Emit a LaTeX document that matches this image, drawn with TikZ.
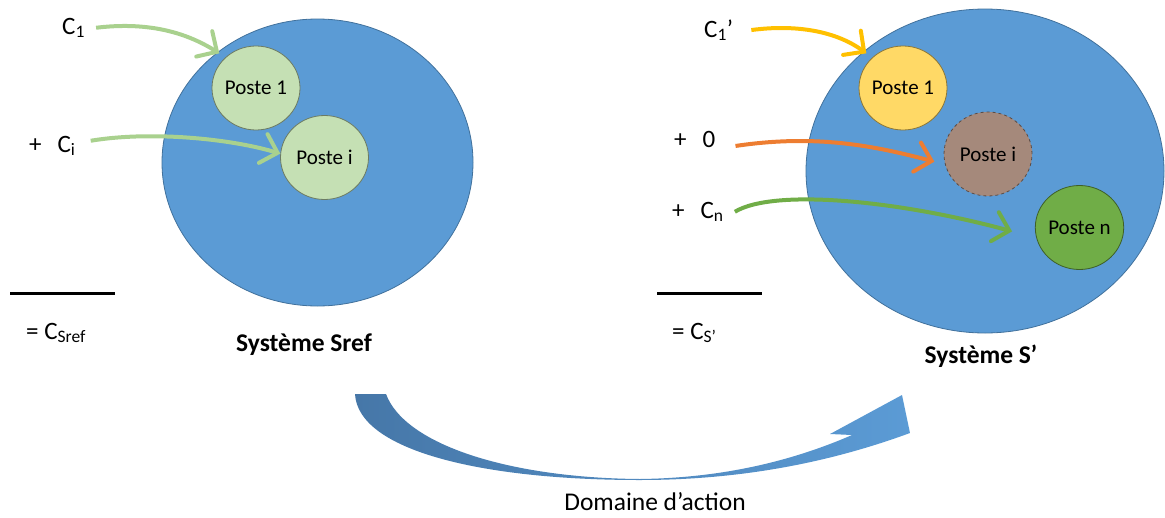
\documentclass[tikz,border=0pt]{standalone}
\usepackage{fontspec}
\setmainfont{Carlito}
\usetikzlibrary{arrows.meta, positioning, shapes.geometric}
\definecolor{sysblue}{HTML}{5B9BD5}
\definecolor{sysedge}{HTML}{41719C}
\definecolor{refgreen}{HTML}{C5E0B4}
\definecolor{arrgreen}{HTML}{A9D18E}
\definecolor{postyellow}{HTML}{FFD966}
\definecolor{arryellow}{HTML}{FFC000}
\definecolor{postbrown}{HTML}{A5897B}
\definecolor{arrorange}{HTML}{ED7D31}
\definecolor{postgreen}{HTML}{70AD47}
\definecolor{domdark}{HTML}{4677A8}
\definecolor{domlight}{HTML}{5B9BD5}

\begin{document}
\begin{tikzpicture}[x=1pt, y=-1pt,
  system/.style={ellipse, fill=sysblue, draw=sysedge, line width=0.8pt},
  poste/.style={
    ellipse, inner sep=0pt,
    minimum width=88pt, minimum height=84pt,
    line width=0.8pt, font=\fontsize{21}{25}\selectfont
  },
  cost/.style={anchor=base west, inner sep=0pt, font=\fontsize{25}{29}\selectfont},
  title/.style={anchor=base, inner sep=0pt, font=\fontsize{25.5}{30}\selectfont\bfseries},
  flow/.style={-{Straight Barb[length=15pt,width=30pt,line cap=round]}, line width=4pt},
  total/.style={line width=3pt}
]
\useasboundingbox (0,0) rectangle (1165,517);

% Systems
\node[system, minimum width=311pt, minimum height=287pt] (sref) at (317.5,162.5) {};
\node[system, minimum width=358pt, minimum height=324pt] (sprime) at (985,171) {};

% Postes
\node[poste, fill=refgreen, draw=refgreen!55!black] (p1ref) at (256,88) {Poste 1};
\node[poste, fill=refgreen, draw=refgreen!55!black] (piref) at (324.5,157.5) {Poste i};
\node[poste, fill=postyellow, draw=postyellow!55!black] (p1s) at (903,88) {Poste 1};
\node[poste, fill=postbrown, draw=postbrown!55!black, dashed] (pis) at (988,154) {Poste i};
\node[poste, fill=postgreen, draw=postgreen!55!black] (pns) at (1079.5,227.5) {Poste n};

% Costs
\node[cost] (c1ref) at (62,34) {C\textsubscript{1}};
\node[cost] (ciref) at (29,152) {+\hspace{16pt}C\textsubscript{i}};
\node[cost] (c1s) at (704,37) {C\textsubscript{1}’};
\node[cost] (cis) at (674,147) {+\hspace{16pt}0};
\node[cost] (cns) at (672,218) {+\hspace{16pt}C\textsubscript{n}};

% Arrows
\draw[flow, arrgreen] ([xshift=11pt]c1ref.east) .. controls +(50,-6) and +(-35,-22) .. ([shift={(-6,-4)}]p1ref.135);
\draw[flow, arrgreen] ([xshift=15pt,yshift=5pt]ciref.east) .. controls +(60,-10) and +(-50,-15) .. (piref.175);
\draw[flow, arryellow] ([xshift=18pt]c1s.east) .. controls +(45,-6) and +(-30,-22) .. ([shift={(-6,-4)}]p1s.135);
\draw[flow, arrorange] ([xshift=20pt,yshift=-7pt]cis.east) .. controls +(80,-12) and +(-60,-16) .. ([xshift=-10pt]pis.190);
\draw[flow, postgreen] ([xshift=11pt]cns.east) .. controls +(40,-24) and +(-110,-30) .. ([xshift=-23pt]pns.185);

% Totals
\draw[total] (10,293) -- (115,293);
\draw[total] (657,293) -- (762,293);
\node[cost] (csref) at (26,339) {= C\textsubscript{Sref}};
\node[cost] (cs) at (672,339) {= C\textsubscript{S’}};

% Titles
\node[title] (tref) at (304,351) {Système Sref};
\node[title] (ts) at (981,363) {Système S’};

% Domaine d'action
\shade[left color=domdark, right color=domlight]
  (355,394) .. controls (358,450) and (480,480) .. (640,480)
  .. controls (760,480) and (850,455) .. (910,433)
  -- (902,395) -- (830,434) -- (852,435)
  .. controls (790,462) and (720,478) .. (640,479)
  .. controls (510,478) and (405,445) .. (386,394) -- cycle;
\node[anchor=base, inner sep=0pt, font=\fontsize{25.5}{30}\selectfont] (dom) at (655,510) {Domaine d’action};

\end{tikzpicture}
\end{document}
